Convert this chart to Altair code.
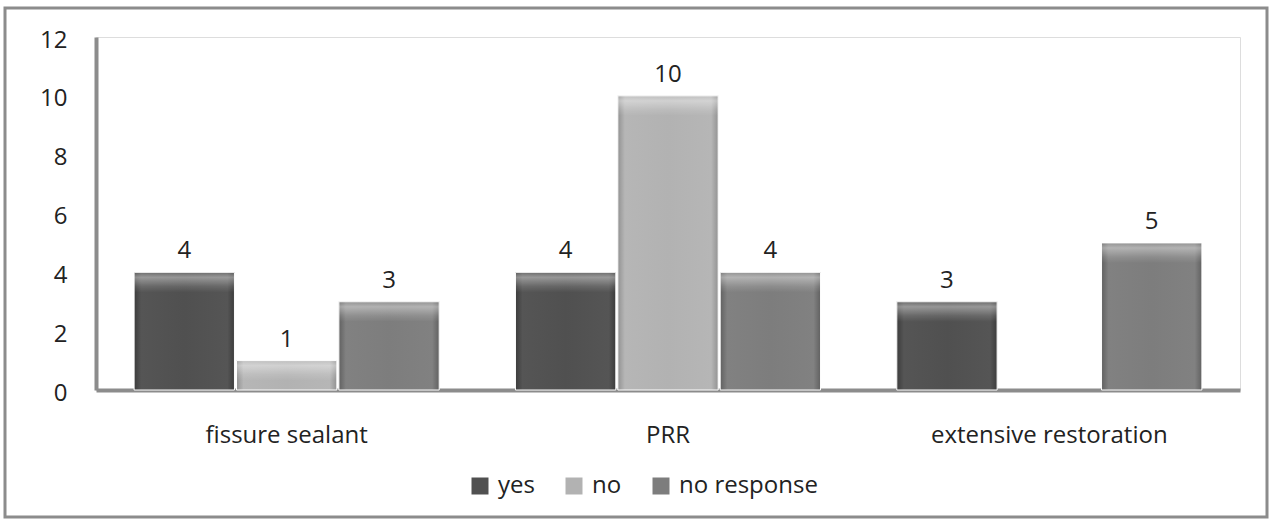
import altair as alt
import pandas as pd

# Survey responses per treatment type
categories = ["fissure sealant", "PRR", "extensive restoration"]
series = ["yes", "no", "no response"]
yes_vals = [4, 4, 3]
no_vals = [1, 10, None]
no_response_vals = [3, 4, 5]

base_colors = ["#505050", "#b2b2b2", "#7d7d7d"]
edge_colors = ["#3c3c3c", "#929292", "#616161"]
mid_colors = ["#555555", "#b6b6b6", "#818181"]

rows = []
for s, vals in zip(series, [yes_vals, no_vals, no_response_vals]):
    for c, v in zip(categories, vals):
        if v is not None:
            rows.append({"category": c, "series": s, "value": v})
df = pd.DataFrame(rows)

FONT = "Open Sans"
FSIZE = 24
TEXT = "#222222"
AXIS_GREY = "#8c8c8c"

x_enc = alt.X(
    "category:N",
    sort=categories,
    scale=alt.Scale(paddingInner=0.2, paddingOuter=0.1),
    axis=alt.Axis(
        title=None, labelAngle=0, ticks=False, domainColor=AXIS_GREY,
        domainWidth=4, labelPadding=33, labelFontSize=FSIZE, labelFont=FONT,
        labelColor=TEXT, labelLimit=0,
    ),
)
xoff_enc = alt.XOffset("series:N", sort=series,
                       scale=alt.Scale(domain=series, paddingInner=0.02))
y_enc = alt.Y(
    "value:Q",
    scale=alt.Scale(domain=[0, 12]),
    axis=alt.Axis(
        title=None, values=[0, 2, 4, 6, 8, 10, 12], grid=False, ticks=False,
        domainColor=AXIS_GREY, domainWidth=4, labelPadding=29,
        labelFontSize=FSIZE, labelFont=FONT, labelColor=TEXT, labelOffset=3,
    ),
)

# Solid bars carry the legend
bars = alt.Chart(df).mark_bar().encode(
    x=x_enc, xOffset=xoff_enc, y=y_enc,
    color=alt.Color(
        "series:N",
        scale=alt.Scale(domain=series, range=base_colors),
        legend=alt.Legend(
            title=None, orient="none", direction="horizontal",
            legendX=372, legendY=437, symbolType="square", symbolSize=289,
            symbolStrokeWidth=0, labelFontSize=FSIZE, labelFont=FONT,
            labelColor=TEXT, columnPadding=27, labelOffset=6, symbolOffset=0,
            labelLimit=0,
        ),
    ),
)

layers = [bars]
for s, base, edge, mid in zip(series, base_colors, edge_colors, mid_colors):
    shade = alt.Gradient(
        gradient="linear", x1=0, x2=1, y1=0, y2=0,
        stops=[
            alt.GradientStop(color=edge, offset=0),
            alt.GradientStop(color=mid, offset=0.07),
            alt.GradientStop(color=base, offset=0.5),
            alt.GradientStop(color=mid, offset=0.93),
            alt.GradientStop(color=edge, offset=1),
        ],
    )
    sub = alt.Chart(df).transform_filter(alt.datum.series == s)
    body = sub.mark_bar(color=shade, stroke="#ffffff", strokeWidth=1).encode(
        x=x_enc, xOffset=xoff_enc, y=y_enc,
    )
    # soft highlight along the top edge of each bar
    bevel = sub.mark_bar(
        y2Offset=20,
        color=alt.Gradient(
            gradient="linear", x1=0, x2=0, y1=0, y2=1,
            stops=[
                alt.GradientStop(color="rgba(255,255,255,0.15)", offset=0),
                alt.GradientStop(color="rgba(255,255,255,0.40)", offset=0.25),
                alt.GradientStop(color="rgba(255,255,255,0.12)", offset=0.7),
                alt.GradientStop(color="rgba(255,255,255,0.0)", offset=1),
            ],
        ),
    ).encode(x=x_enc, xOffset=xoff_enc, y=y_enc, y2="value:Q")
    layers += [body, bevel]

labels = alt.Chart(df).mark_text(
    dy=-14, baseline="alphabetic", fontSize=FSIZE, font=FONT, color=TEXT
).encode(x=x_enc, xOffset=xoff_enc, y=y_enc, text="value:Q")
layers.append(labels)

frame = alt.Chart(pd.DataFrame({"k": [0]})).mark_rect(
    fill=None, stroke=AXIS_GREY, strokeWidth=3
).encode(
    x=alt.value(-91), x2=alt.value(1171), y=alt.value(-29), y2=alt.value(480)
)
layers.append(frame)

chart = alt.layer(*layers).properties(
    width=1144, height=353,
    autosize=alt.AutoSizeParams(type="none"),
    padding={"left": 96, "top": 37, "right": 31, "bottom": 135},
).configure_view(stroke=None).configure(background="#ffffff")

chart.save("out.html", embed_options={"renderer": "svg", "actions": False})
